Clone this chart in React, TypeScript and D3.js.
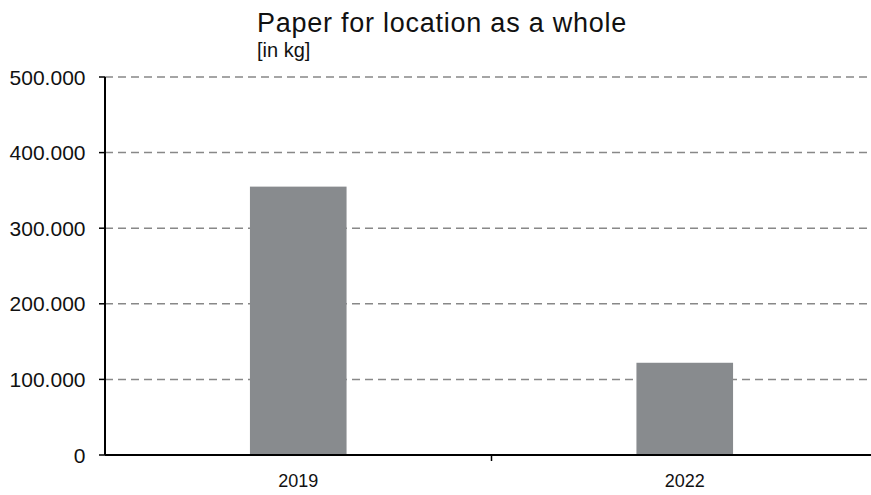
import React from "react";
import * as d3 from "d3";

const categories = ["2019", "2022"];
const values = [355000, 122000];
const yTicks = [0, 100000, 200000, 300000, 400000, 500000];
const title = "Paper for location as a whole";
const subtitle = "[in kg]";

const W = 871;
const H = 495;
const left = 105;
const right = 878;
const top = 77;
const bottom = 455;

const fmt = (v: number) => (v === 0 ? "0" : d3.format(",")(v).replace(/,/g, "."));

export default function App() {
  const x = d3.scaleBand<string>().domain(categories).range([left, right]).paddingInner(0.75).paddingOuter(0.375);
  const xEdges = d3.scaleBand<string>().domain(categories).range([left, right]).padding(0);
  const y = d3.scaleLinear().domain([0, 500000]).range([bottom, top]);
  const font = "'Liberation Sans', Arial, sans-serif";
  return (
    <svg width={W} height={H} style={{ position: "absolute", left: 0, top: 0 }} fontFamily={font}>
      <rect x={0} y={0} width={W} height={H} fill="#fff" />
      <text x={257} y={31.5} fontSize={27} letterSpacing={0.75} fill="#111">{title}</text>
      <text x={257} y={57} fontSize={20} fill="#111">{subtitle}</text>
      {yTicks.map((t) => (
        <g key={t}>
          <line x1={left} x2={W} y1={y(t)} y2={y(t)} stroke="#888" strokeWidth={1.5} strokeDasharray="8,5" />
          <line x1={left - 6} x2={left} y1={y(t)} y2={y(t)} stroke="#000" strokeWidth={1.5} />
          <text x={85.5} y={y(t)} dy="0.36em" textAnchor="end" fontSize={21} fill="#111">{fmt(t)}</text>
        </g>
      ))}
      {categories.map((c, i) => (
        <rect key={c} x={x(c)} y={y(values[i])} width={x.bandwidth()} height={bottom - y(values[i])} fill="#888b8e" />
      ))}
      <line x1={left} x2={left} y1={top} y2={bottom} stroke="#000" strokeWidth={2} />
      <line x1={left} x2={W} y1={bottom} y2={bottom} stroke="#000" strokeWidth={2} />
      {categories.slice(1).map((c) => (
        <line key={c} x1={xEdges(c)} x2={xEdges(c)} y1={bottom} y2={bottom + 6} stroke="#000" strokeWidth={1.5} />
      ))}
      {categories.map((c) => (
        <text key={c} x={(x(c) as number) + x.bandwidth() / 2} y={487} textAnchor="middle" fontSize={18} fill="#111">{c}</text>
      ))}
    </svg>
  );
}
